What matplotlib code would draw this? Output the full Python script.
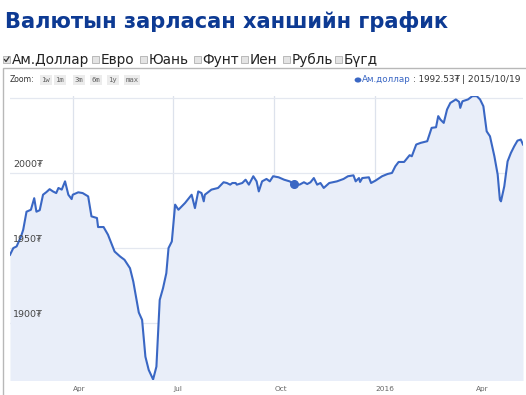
import matplotlib
matplotlib.use("Agg")
import matplotlib.pyplot as plt
from matplotlib.patches import Rectangle, Circle
from matplotlib.lines import Line2D
import matplotlib.transforms as mtransforms
import pandas as pd

# USD rate (MNT)
dates = [
    "2015-02-03", "2015-02-06", "2015-02-09", "2015-02-13", "2015-02-15", "2015-02-18",
    "2015-02-22", "2015-02-25", "2015-02-27", "2015-03-02", "2015-03-05", "2015-03-08",
    "2015-03-11", "2015-03-14", "2015-03-17", "2015-03-19", "2015-03-22", "2015-03-25",
    "2015-03-28", "2015-03-31", "2015-04-01", "2015-04-06", "2015-04-10", "2015-04-15",
    "2015-04-18", "2015-04-23", "2015-04-24", "2015-04-29", "2015-05-03", "2015-05-06",
    "2015-05-09", "2015-05-14", "2015-05-18", "2015-05-23", "2015-05-26", "2015-05-29",
    "2015-05-31", "2015-06-03", "2015-06-06", "2015-06-09", "2015-06-13", "2015-06-16",
    "2015-06-19", "2015-06-22", "2015-06-25", "2015-06-27", "2015-06-30", "2015-07-03",
    "2015-07-06", "2015-07-12", "2015-07-18", "2015-07-21", "2015-07-24", "2015-07-27",
    "2015-07-29", "2015-07-30", "2015-08-05", "2015-08-11", "2015-08-16", "2015-08-19",
    "2015-08-22", "2015-08-24", "2015-08-27", "2015-08-28", "2015-09-02", "2015-09-05",
    "2015-09-08", "2015-09-12", "2015-09-15", "2015-09-17", "2015-09-20", "2015-09-24",
    "2015-09-27", "2015-09-30", "2015-10-05", "2015-10-10", "2015-10-15", "2015-10-19",
    "2015-10-24", "2015-10-28", "2015-10-31", "2015-11-03", "2015-11-06", "2015-11-09",
    "2015-11-12", "2015-11-15", "2015-11-20", "2015-11-27", "2015-12-03", "2015-12-07",
    "2015-12-12", "2015-12-14", "2015-12-17", "2015-12-18", "2015-12-20", "2015-12-26",
    "2015-12-28", "2016-01-01", "2016-01-07", "2016-01-12", "2016-01-16", "2016-01-19",
    "2016-01-22", "2016-01-27", "2016-01-30", "2016-02-01", "2016-02-03", "2016-02-07",
    "2016-02-11", "2016-02-17", "2016-02-21", "2016-02-25", "2016-02-27", "2016-02-29",
    "2016-03-03", "2016-03-06", "2016-03-09", "2016-03-14", "2016-03-17", "2016-03-18",
    "2016-03-20", "2016-03-25", "2016-03-29", "2016-04-02", "2016-04-05", "2016-04-08",
    "2016-04-11", "2016-04-14", "2016-04-18", "2016-04-21", "2016-04-23", "2016-04-24",
    "2016-04-27", "2016-04-30", "2016-05-03", "2016-05-06", "2016-05-09", "2016-05-12",
    "2016-05-14",
]
usd = [
    1945.3, 1949.8, 1950.9, 1957.5, 1962.0, 1974.0,
    1975.3, 1983.0, 1974.0, 1975.0, 1985.3, 1987.0,
    1989.0, 1987.5, 1986.4, 1989.8, 1988.7, 1994.2,
    1985.3, 1982.4, 1985.3, 1986.9, 1986.4, 1984.2,
    1970.9, 1969.8, 1963.8, 1963.8, 1958.7, 1953.1,
    1947.5, 1944.2, 1942.0, 1936.4, 1927.5, 1915.3,
    1906.9, 1902.0, 1877.5, 1868.7, 1862.4, 1870.9,
    1915.3, 1923.1, 1933.1, 1949.8, 1954.2, 1978.7,
    1975.3, 1979.8, 1985.3, 1976.4, 1987.5, 1986.4,
    1980.9, 1985.3, 1988.7, 1989.8, 1993.6, 1993.1,
    1992.0, 1993.1, 1993.1, 1992.0, 1993.1, 1995.3,
    1992.0, 1997.6, 1994.2, 1987.5, 1994.2, 1995.8,
    1994.2, 1997.6, 1996.9, 1995.3, 1994.2, 1992.53,
    1992.0, 1993.6, 1992.4, 1993.6, 1996.4, 1992.0,
    1993.1, 1989.8, 1993.1, 1994.2, 1995.8, 1997.6,
    1998.2, 1994.2, 1996.4, 1993.8, 1996.4, 1996.9,
    1993.1, 1994.7, 1997.6, 1999.1, 1999.8, 2004.2,
    2007.1, 2007.1, 2009.8, 2011.6, 2010.9, 2018.7,
    2019.8, 2020.9, 2029.8, 2030.2, 2037.6, 2035.3,
    2033.1, 2042.0, 2046.4, 2048.7, 2047.1, 2043.1,
    2047.5, 2048.7, 2050.9, 2050.9, 2048.7, 2044.2,
    2027.5, 2024.2, 2010.9, 1998.7, 1982.0, 1980.9,
    1990.9, 2007.5, 2013.1, 2017.5, 2021.3, 2022.0,
    2018.7,
]
y_ticks = [1900, 1950, 2000]
x_ticks = ["2015-04-01", "2015-07-01", "2015-10-01", "2016-01-01", "2016-04-01"]
x_tick_labels = ["Apr", "Jul", "Oct", "2016", "Apr"]
currencies = ["Ам.Доллар", "Евро", "Юань", "Фунт", "Иен", "Рубль", "Бүгд"]
zoom_buttons = ["1w", "1m", "3m", "6m", "1y", "max"]
sel_date = "2015-10-19"
sel_value = 1992.53

W, H = 526, 395
fig = plt.figure(figsize=(W / 100, H / 100), dpi=100)
fig.patch.set_facecolor("white")


def fx(px):
    return px / W


def fy(py):
    return 1 - py / H


# title and currency checkboxes
fig.text(fx(5), fy(28), "Валютын зарласан ханшийн график", fontsize=15.1,
         fontweight="bold", color="#0d3a93", va="baseline", ha="left")

box_x = [3, 92, 140, 194, 241, 283, 335]
for i, (name, bx) in enumerate(zip(currencies, box_x)):
    fig.patches.append(Rectangle((fx(bx), fy(63)), fx(7), 7 / H, transform=fig.transFigure,
                                 facecolor="#e4e4e4", edgecolor="#b0b0b0", lw=0.6))
    if i == 0:
        fig.lines.append(Line2D([fx(bx + 1.5), fx(bx + 3), fx(bx + 6)],
                                [fy(59.5), fy(61.5), fy(57)], transform=fig.transFigure,
                                color="#333333", lw=0.9))
    fig.text(fx(bx + 8.5), fy(60), name, fontsize=9.8, color="#222222",
             va="center", ha="left")

# chart frame
fig.patches.append(Rectangle((fx(3), fy(400)), fx(540), 332 / H, transform=fig.transFigure,
                             facecolor="none", edgecolor="#b8b8b8", lw=1.0))

# zoom buttons
fig.text(fx(10), fy(80), "Zoom:", fontsize=5.6, color="#333333", va="center", ha="left")
btn_x = [40, 54, 73, 90, 107, 124]
for label, bx in zip(zoom_buttons, btn_x):
    fig.text(fx(bx + 1.5), fy(80), label, fontsize=5.2, color="#666666",
             family="DejaVu Sans Mono", va="center", ha="left",
             bbox=dict(boxstyle="square,pad=0.25", facecolor="#ececec", edgecolor="none"))

# selected point readout
fig.patches.append(Circle((fx(358), fy(80)), 3.4 / W, transform=fig.transFigure,
                          facecolor="#3a67c4", edgecolor="none"))
fig.text(fx(362), fy(80), "Ам.доллар", fontsize=6.3, color="#3a67c4", va="center", ha="left")
fig.text(fx(413), fy(80), ": %.2f₮" % sel_value, fontsize=6.3, color="#333333",
         va="center", ha="left")
fig.text(fx(462), fy(80), "| " + sel_date.replace("-", "/"), fontsize=6.6,
         color="#333333", va="center", ha="left")

# plot area
ax = fig.add_axes([fx(10), fy(380), fx(513), (380 - 96) / H])
x = pd.to_datetime(dates)
ax.fill_between(x, usd, 1800, color="#e9eef9", lw=0)
ax.plot(x, usd, color="#3a67c4", lw=1.5, solid_joinstyle="round")
ax.plot(pd.to_datetime(sel_date), sel_value, "o", color="#3a67c4", ms=5.5)

ax.set_xlim(x[0], x[-1])
ax.set_ylim(1862, 2051)
ax.set_facecolor("white")
for s in ax.spines.values():
    s.set_visible(False)

ax.set_yticks(y_ticks + [2050])
ax.set_yticklabels([])
ax.tick_params(axis="y", length=0)
ax.grid(axis="y", color="#e4e8f0", lw=0.9)

xt = pd.to_datetime(x_ticks)
ax.set_xticks(xt)
ax.set_xticklabels(x_tick_labels, fontsize=5.3, color="#666666", ha="left")
ax.tick_params(axis="x", length=0, pad=4)
ax.grid(axis="x", color="#dde2ec", lw=0.9)
ax.set_axisbelow(True)

trans = mtransforms.blended_transform_factory(ax.transAxes, ax.transData)
offset = mtransforms.ScaledTranslation(0, 4 / 100, fig.dpi_scale_trans)
for v in y_ticks:
    ax.text(0.006, v, "%d₮" % v, transform=trans + offset, fontsize=6.8,
            color="#444444", va="bottom", ha="left")

fig.savefig("out.png", dpi=100)
